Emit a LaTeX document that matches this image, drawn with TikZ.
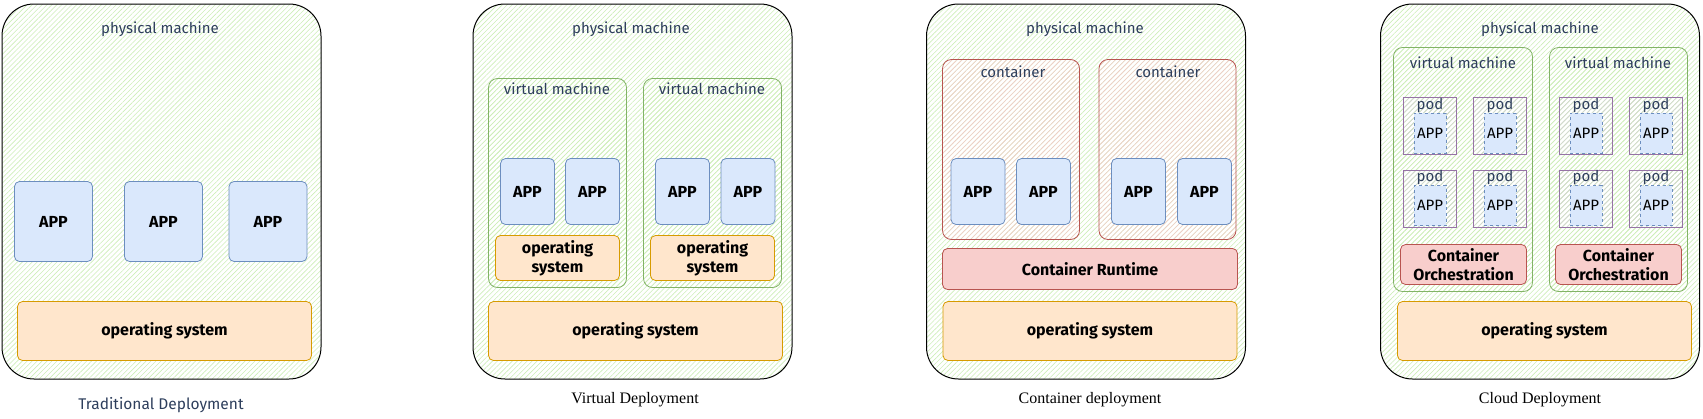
\documentclass[tikz,border=0pt]{standalone}
\usepackage{fontspec}
\setmainfont{Liberation Serif}
\newfontfamily\sketchfont{Fira Sans}
\usepackage{xcolor}
\usepackage{tikz}
\usetikzlibrary{patterns.meta}

\definecolor{navy}{HTML}{2D3E5C}
\definecolor{appfill}{HTML}{DAE8FC}
\definecolor{appline}{HTML}{6C8EBF}
\definecolor{osfill}{HTML}{FFE6CC}
\definecolor{osline}{HTML}{D79B00}
\definecolor{vmline}{HTML}{82B366}
\definecolor{ctrline}{HTML}{B85450}
\definecolor{rtfill}{HTML}{F8CECC}
\definecolor{podline}{HTML}{9673A6}
\definecolor{hatchgreen}{HTML}{CDEDB8}
\definecolor{hatchred}{HTML}{F3CCC8}
\definecolor{hatchgrey}{HTML}{D4D4D4}

\begin{document}
\begin{tikzpicture}[x=1pt,y=-1pt,thick,inner sep=0pt,font=\sketchfont,
    hatch/.style={pattern={Lines[angle=45,distance=3.5pt,line width=0.6pt]},pattern color=#1},
    physbox/.style={draw=black,line width=1pt,rounded corners=32pt,hatch=hatchgreen,minimum width=319pt,minimum height=375pt},
    vmbox/.style={draw=vmline,rounded corners=9pt,hatch=hatchgreen},
    ctrbox/.style={draw=ctrline,rounded corners=9pt,hatch=hatchred,minimum width=137pt,minimum height=180pt},
    appbox/.style={draw=appline,fill=appfill,rounded corners=5pt,font=\sketchfont\bfseries\fontsize{16}{18}\selectfont},
    appA/.style={appbox,minimum width=78pt,minimum height=80pt},
    appB/.style={appbox,minimum width=54pt,minimum height=66pt},
    osbox/.style={draw=osline,fill=osfill,rounded corners=5pt,align=center,font=\sketchfont\bfseries\fontsize{16}{19}\selectfont},
    osbig/.style={osbox,minimum width=294pt,minimum height=59pt},
    ossmall/.style={osbox,minimum width=124pt,minimum height=45pt},
    rtbox/.style={draw=ctrline,fill=rtfill,rounded corners=5pt,align=center,font=\sketchfont\bfseries\fontsize{16}{19}\selectfont},
    podbox/.style={draw=podline,hatch=hatchgrey,minimum width=53pt,minimum height=57pt},
    podapp/.style={draw=appline,dashed,fill=appfill,minimum width=32pt,minimum height=40pt,font=\sketchfont\fontsize{15}{17}\selectfont},
    lbl/.style={text=navy,font=\sketchfont\fontsize{15}{17}\selectfont},
    captext/.style={font=\rmfamily\fontsize{16}{18}\selectfont}]
    \useasboundingbox (0,0) rectangle (1703,418);

    % Traditional deployment
    \node[physbox] (pm1) at (161.5,191.5) {};
    \node[lbl] (pm1l) at (160,29) {physical machine};
    \node[appA] (app11) at (53.5,221.5) {APP};
    \node[appA] (app12) at (163.5,221.5) {APP};
    \node[appA] (app13) at (268,221.5) {APP};
    \node[osbig] (os1) at (164.5,331) {operating system};
    \node[lbl,font=\sketchfont\fontsize{15.5}{18}\selectfont] (cap1) at (161,405) {Traditional Deployment};

    % Virtual deployment
    \node[physbox] (pm2) at (632.5,191.5) {};
    \node[lbl] (pm2l) at (631,29) {physical machine};
    \node[vmbox,minimum width=138pt,minimum height=209pt] (vm21) at (557.5,183) {};
    \node[vmbox,minimum width=138pt,minimum height=209pt] (vm22) at (712.5,183) {};
    \node[lbl] (vm21l) at (557,89) {virtual machine};
    \node[lbl] (vm22l) at (712,89) {virtual machine};
    \node[appB] (app21) at (527.5,191.5) {APP};
    \node[appB] (app22) at (592.5,191.5) {APP};
    \node[appB] (app23) at (682.5,191.5) {APP};
    \node[appB] (app24) at (748,191.5) {APP};
    \node[ossmall] (os21) at (557.5,258) {operating\\system};
    \node[ossmall] (os22) at (712.5,258) {operating\\system};
    \node[osbig] (os2) at (635.5,331) {operating system};
    \node[captext] (cap2) at (635,400) {Virtual Deployment};

    % Container deployment
    \node[physbox] (pm3) at (1086,191.5) {};
    \node[lbl] (pm3l) at (1085,29) {physical machine};
    \node[ctrbox] (ctr31) at (1011,149.5) {};
    \node[ctrbox] (ctr32) at (1167.5,149.5) {};
    \node[lbl] (ctr31l) at (1013,72) {container};
    \node[lbl] (ctr32l) at (1168,72) {container};
    \node[appB] (app31) at (978,191.5) {APP};
    \node[appB] (app32) at (1043.5,191.5) {APP};
    \node[appB] (app33) at (1138.5,191.5) {APP};
    \node[appB] (app34) at (1204.5,191.5) {APP};
    \node[rtbox,minimum width=295pt,minimum height=41pt] (rt3) at (1090,269) {Container Runtime};
    \node[osbig] (os3) at (1090,331) {operating system};
    \node[captext] (cap3) at (1090,400) {Container deployment};

    % Cloud deployment
    \node[physbox] (pm4) at (1540,191.5) {};
    \node[lbl] (pm4l) at (1540,29) {physical machine};
    \node[vmbox,minimum width=139pt,minimum height=244pt] (vm41) at (1463,169.5) {};
    \node[vmbox,minimum width=138pt,minimum height=244pt] (vm42) at (1618.5,169.5) {};
    \node[lbl] (vm41l) at (1463,63) {virtual machine};
    \node[lbl] (vm42l) at (1618,63) {virtual machine};
    % pods
    \node[podbox] (pod41) at (1430,126) {};
    \node[podbox] (pod42) at (1500,126) {};
    \node[podbox] (pod43) at (1430,198.5) {};
    \node[podbox] (pod44) at (1500,198.5) {};
    \node[podbox] (pod45) at (1586,126) {};
    \node[podbox] (pod46) at (1656,126) {};
    \node[podbox] (pod47) at (1586,198.5) {};
    \node[podbox] (pod48) at (1656,198.5) {};
    \node[podapp] (app41) at (1430,133) {APP};
    \node[podapp] (app42) at (1500,133) {APP};
    \node[podapp] (app43) at (1430,205.5) {APP};
    \node[podapp] (app44) at (1500,205.5) {APP};
    \node[podapp] (app45) at (1586,133) {APP};
    \node[podapp] (app46) at (1656,133) {APP};
    \node[podapp] (app47) at (1586,205.5) {APP};
    \node[podapp] (app48) at (1656,205.5) {APP};
    \node[lbl] (pod41l) at (1430,105) {pod};
    \node[lbl] (pod42l) at (1500,105) {pod};
    \node[lbl] (pod43l) at (1430,177) {pod};
    \node[lbl] (pod44l) at (1500,177) {pod};
    \node[lbl] (pod45l) at (1586,105) {pod};
    \node[lbl] (pod46l) at (1656,105) {pod};
    \node[lbl] (pod47l) at (1586,177) {pod};
    \node[lbl] (pod48l) at (1656,177) {pod};
    \node[rtbox,minimum width=126pt,minimum height=40pt] (orc41) at (1463.5,264.5) {Container\\Orchestration};
    \node[rtbox,minimum width=126pt,minimum height=40pt] (orc42) at (1618.5,264.5) {Container\\Orchestration};
    \node[osbig] (os4) at (1544.5,331) {operating system};
    \node[captext] (cap4) at (1540,400) {Cloud Deployment};
\end{tikzpicture}
\end{document}
